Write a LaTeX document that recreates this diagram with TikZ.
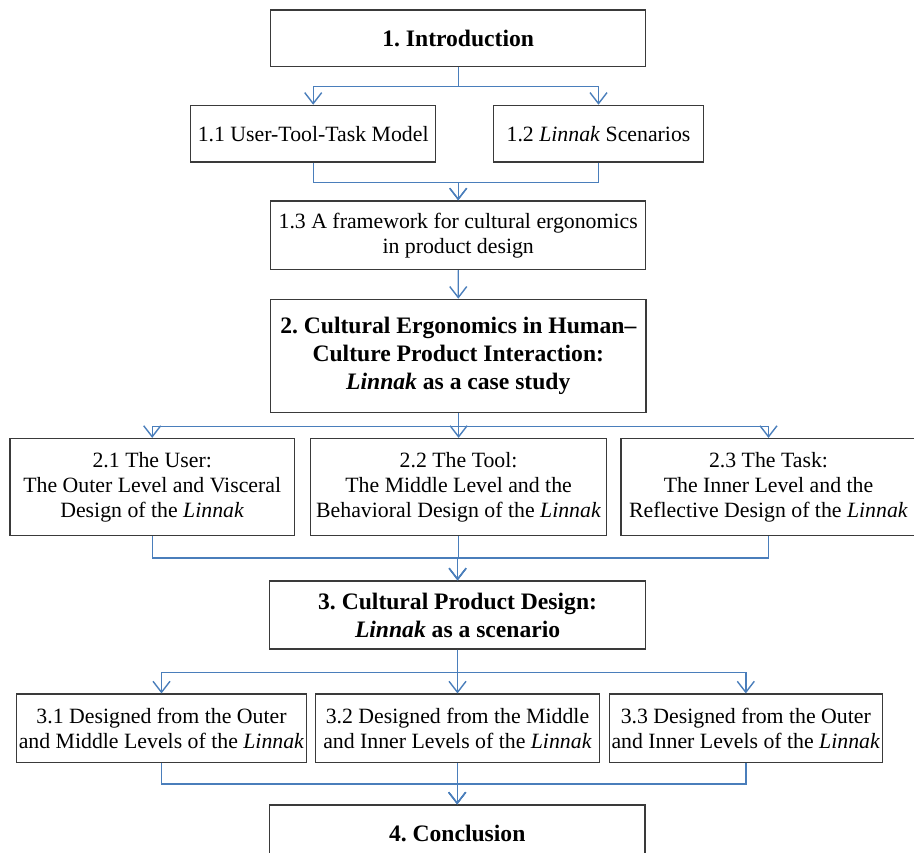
\documentclass[tikz,border=0pt]{standalone}
\usepackage{fontspec}
\setmainfont{Liberation Serif}
\usetikzlibrary{arrows.meta}
\definecolor{conncol}{HTML}{4A7EBB}
\definecolor{boxcol}{HTML}{3A3A3A}
\frenchspacing
\begin{document}
\begin{tikzpicture}[x=1pt,y=-1pt,
  box/.style={draw=boxcol, line width=1.2pt, align=center, inner sep=0pt, fill=white,
    font=\fontsize{21.8}{25}\selectfont},
  headbox/.style={box, font=\fontsize{23.6}{28}\selectfont\bfseries},
  conn/.style={draw=conncol, line width=1.4pt},
  arr/.style={conn, -{Straight Barb[length=11pt,width=17pt,line width=1.4pt]}}
]
\useasboundingbox (0,0) rectangle (914,853);

% nodes
\node[headbox, minimum width=375pt, minimum height=56.7pt] (intro) at (458.2,38.3) {1. Introduction};
\node[box, minimum width=245pt, minimum height=56.7pt] (b11) at (313.2,133.7) {1.1 User-Tool-Task Model};
\node[box, minimum width=210.7pt, minimum height=56.7pt] (b12) at (598.5,133.7) {1.2 \textit{Linnak} Scenarios};
\node[box, minimum width=375pt, minimum height=68.7pt] (b13) at (458.2,235.3) {1.3 A framework for cultural ergonomics\\in product design};
\node[headbox, minimum width=375.3pt, minimum height=113.4pt] (b2) at (458.3,356) {2. Cultural Ergonomics in Human--\\Culture Product Interaction:\\\textit{Linnak} as a case study};
\node[box, minimum width=284.3pt, minimum height=97pt] (b21) at (152.2,487) {2.1 The User:\\The Outer Level and Visceral\\Design of the \textit{Linnak}};
\node[box, minimum width=295.6pt, minimum height=97pt] (b22) at (458.6,487) {2.2 The Tool:\\The Middle Level and the\\Behavioral Design of the \textit{Linnak}};
\node[box, minimum width=295pt, minimum height=97pt] (b23) at (768.5,487) {2.3 The Task:\\The Inner Level and the\\Reflective Design of the \textit{Linnak}};
\node[headbox, minimum width=376pt, minimum height=68pt] (b3) at (457.6,615) {3. Cultural Product Design:\\\textit{Linnak} as a scenario};
\node[box, minimum width=290.4pt, minimum height=68.3pt] (b31) at (161.5,728.2) {3.1 Designed from the Outer\\and Middle Levels of the \textit{Linnak}};
\node[box, minimum width=284pt, minimum height=68.3pt] (b32) at (457.5,728.2) {3.2 Designed from the Middle\\and Inner Levels of the \textit{Linnak}};
\node[box, minimum width=273pt, minimum height=68.3pt] (b33) at (745.8,728.2) {3.3 Designed from the Outer\\and Inner Levels of the \textit{Linnak}};
\node[headbox, minimum width=375.6pt, minimum height=57pt] (b4) at (457.2,833.5) {4. Conclusion};

% connectors: intro -> 1.1 / 1.2
\draw[arr] (intro.south) -- ++(0,19.3) -| (b11.north);
\draw[arr] (intro.south) -- ++(0,19.3) -| (b12.north);
% 1.1 / 1.2 -> 1.3
\draw[arr] (b11.south) -- ++(0,19.7) -| (b13.north);
\draw[arr] (b12.south) -- ++(0,19.7) -| (b13.north);
% 1.3 -> 2
\draw[arr] (b13.south) -- (b2.north);
% 2 -> 2.x
\draw[arr] (b2.south) -- ++(0,13) -| (b21.north);
\draw[arr] (b2.south) -- ++(0,13) -| (b22.north);
\draw[arr] (b2.south) -- ++(0,13) -| (b23.north);
% 2.x -> 3
\draw[arr] (b21.south) -- ++(0,22) -| (b3.north);
\draw[arr] (b22.south) -- ++(0,22) -| (b3.north);
\draw[arr] (b23.south) -- ++(0,22) -| (b3.north);
% 3 -> 3.x
\draw[arr] (b3.south) -- ++(0,22.7) -| (b31.north);
\draw[arr] (b3.south) -- ++(0,22.7) -| (b32.north);
\draw[arr] (b3.south) -- ++(0,22.7) -| (b33.north);
% 3.x -> 4
\draw[arr] (b31.south) -- ++(0,21) -| (b4.north);
\draw[arr] (b32.south) -- ++(0,21) -| (b4.north);
\draw[arr] (b33.south) -- ++(0,21) -| (b4.north);
\end{tikzpicture}
\end{document}
